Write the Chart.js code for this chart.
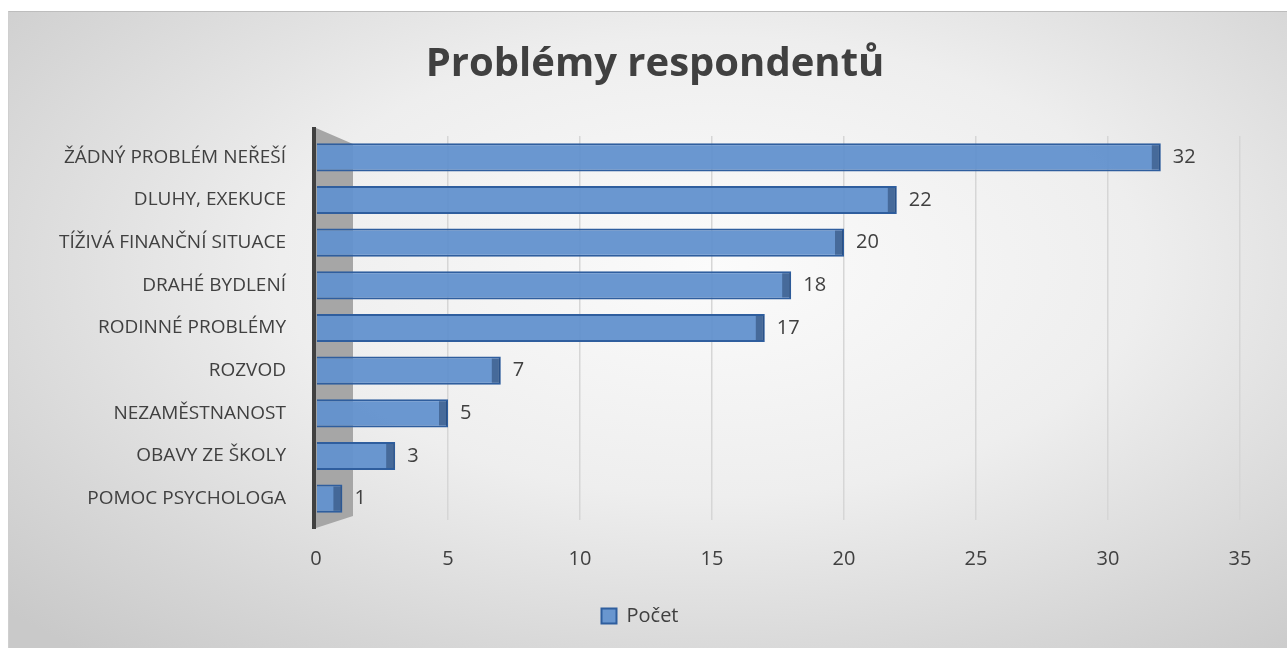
<!DOCTYPE html>
<html>
<head>
<meta charset="utf-8">
<script src="https://cdn.jsdelivr.net/npm/chart.js@4/dist/chart.umd.min.js"></script>
<style>
    body { margin: 0; background: #fff; }
    #bg {
        position: absolute; left: 8px; top: 11px; width: 1279px; height: 637px;
        border-top: 1px solid #bdbdbd; border-left: 1px solid #cfcfcf;
        background: radial-gradient(ellipse 75% 80% at 55% 40%, #fbfbfb 0%, #eeeeee 45%, #d6d6d6 80%, #c9c9c9 100%);
    }
    #wrap { position: absolute; left: 0; top: 0; width: 1287px; height: 648px; }
</style>
</head>
<body>
<div id="bg"></div>
<div id="wrap"><canvas id="myChart"></canvas></div>
<script>
const chartTitle = 'Problémy respondentů';
const categories = [
    'ŽÁDNÝ PROBLÉM NEŘEŠÍ',
    'DLUHY, EXEKUCE',
    'TÍŽIVÁ FINANČNÍ SITUACE',
    'DRAHÉ BYDLENÍ',
    'RODINNÉ PROBLÉMY',
    'ROZVOD',
    'NEZAMĚSTNANOST',
    'OBAVY ZE ŠKOLY',
    'POMOC PSYCHOLOGA',
];
const pocet = [32, 22, 20, 18, 17, 7, 5, 3, 1];
const xTicks = [0, 5, 10, 15, 20, 25, 30, 35];

const textColor = '#404040';
Chart.defaults.font.family = 'Open Sans';
Chart.defaults.color = textColor;

// grey side wall, dark axis line, end faces, value labels and the title (excel 3d look)
const decor = {
    id: 'decor',
    beforeDatasetsDraw(chart) {
        const a = chart.chartArea, ctx = chart.ctx;
        ctx.save();
        ctx.fillStyle = '#a6a6a6';
        ctx.beginPath();
        ctx.moveTo(a.left, a.top - 8);
        ctx.lineTo(a.left + 37, a.top + 8);
        ctx.lineTo(a.left + 37, a.bottom - 4);
        ctx.lineTo(a.left, a.bottom + 8);
        ctx.closePath();
        ctx.fill();
        ctx.strokeStyle = '#404040';
        ctx.lineWidth = 4;
        ctx.beginPath();
        ctx.moveTo(a.left - 2, a.top - 9);
        ctx.lineTo(a.left - 2, a.bottom + 9);
        ctx.stroke();
        ctx.restore();
    },
    afterDatasetsDraw(chart) {
        const ctx = chart.ctx;
        const meta = chart.getDatasetMeta(0);
        ctx.save();
        meta.data.forEach((bar, i) => {
            const h = bar.height;
            ctx.fillStyle = 'rgba(40,70,110,0.55)';
            ctx.fillRect(bar.x - 9, bar.y - h / 2 + 2, 8, h - 4);
            ctx.fillStyle = textColor;
            ctx.font = '20px "Open Sans"';
            ctx.textAlign = 'left';
            ctx.textBaseline = 'middle';
            ctx.fillText(String(pocet[i]), bar.x + 12, bar.y);
        });
        ctx.restore();
    },
    afterDraw(chart) {
        const ctx = chart.ctx;
        ctx.save();
        ctx.fillStyle = textColor;
        ctx.font = 'bold 40px "Open Sans"';
        ctx.textAlign = 'center';
        ctx.textBaseline = 'middle';
        ctx.fillText(chartTitle, 655, 65);
        ctx.restore();
    }
};

const data = {
    labels: categories,
    datasets: [
        {
            label: 'Počet',
            data: pocet,
            backgroundColor: 'rgba(98, 145, 205, 0.95)',
            borderColor: '#2f5e9e',
            borderWidth: 2,
            categoryPercentage: 0.66,
            barPercentage: 1,
        },
    ]
};

const config = {
    type: 'bar',
    data: data,
    plugins: [decor],
    options: {
        indexAxis: 'y',
        responsive: true,
        maintainAspectRatio: false,
        animation: false,
        layout: {
            padding: { left: 40, right: 47, top: 136, bottom: 12 }
        },
        plugins: {
            title: { display: false },
            legend: {
                position: 'bottom',
                labels: {
                    boxWidth: 15,
                    boxHeight: 15,
                    padding: 10,
                    color: textColor,
                    font: { size: 20 },
                    generateLabels: function (chart) {
                        let labels = Chart.defaults.plugins.legend.labels.generateLabels(chart);
                        for (var key in labels) {
                            labels[key].lineWidth = 2;
                        }
                        return labels;
                    }
                }
            },
            tooltip: { enabled: false }
        },
        scales: {
            x: {
                min: 0,
                max: 35,
                afterBuildTicks: (scale) => { scale.ticks = xTicks.map(v => ({ value: v })); },
                afterFit: (scale) => { scale.height = 76; },
                grid: {
                    color: '#d6d6d6',
                    lineWidth: 1.5,
                    drawTicks: false,
                },
                border: { display: false },
                ticks: {
                    padding: 27,
                    color: textColor,
                    font: { size: 20 }
                }
            },
            y: {
                afterFit: (scale) => { scale.width = 276; },
                grid: { display: false },
                border: { display: false },
                ticks: {
                    padding: 22,
                    color: textColor,
                    font: { size: 19 }
                }
            }
        },
    },
};

const myChart = new Chart(
    document.getElementById('myChart'),
    config
);
</script>
</body>
</html>
